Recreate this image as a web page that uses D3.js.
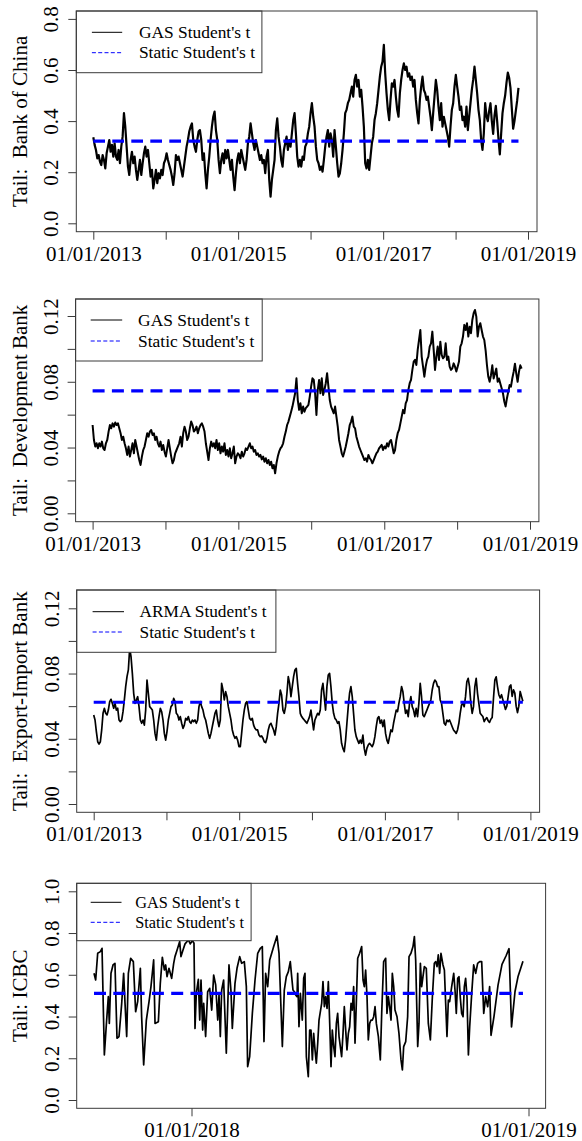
<!DOCTYPE html>
<html><head><meta charset="utf-8">
<script src="https://cdn.jsdelivr.net/npm/d3@7"></script>
<style>
body{margin:0;background:#fff}
svg{display:block;background:#fff}
text{font-family:"Liberation Serif","Times New Roman",serif;fill:#000}
</style>
</head><body>
<svg id="chart" width="582" height="1141"></svg>
<script>
// ---------------- DATA ----------------
// Bank of China: GAS Student's t tail (weekly-ish sampling, 2013-01-01 .. 2018-11-14)
const bocStart = "2013-01-01", bocEnd = "2018-11-14";
const bocValues = [
0.337,0.307,0.287,0.254,0.267,0.241,0.228,0.267,0.248,0.215,
0.274,0.300,0.326,0.280,0.307,0.261,0.313,0.261,0.248,0.287,
0.235,0.300,0.339,0.431,0.378,0.300,0.222,0.189,0.248,0.280,
0.235,0.261,0.209,0.170,0.209,0.248,0.189,0.235,0.274,0.300,
0.261,0.287,0.235,0.183,0.209,0.137,0.170,0.209,0.157,0.196,
0.176,0.209,0.189,0.235,0.248,0.274,0.248,0.228,0.209,0.183,
0.150,0.196,0.267,0.248,0.261,0.235,0.209,0.183,0.222,0.261,
0.300,0.326,0.359,0.378,0.391,0.326,0.300,0.280,0.326,0.359,
0.365,0.326,0.248,0.274,0.196,0.137,0.209,0.261,0.326,0.378,
0.417,0.437,0.365,0.326,0.248,0.196,0.248,0.274,0.235,0.287,
0.254,0.287,0.248,0.209,0.248,0.183,0.130,0.196,0.248,0.274,
0.235,0.287,0.261,0.235,0.209,0.248,0.313,0.339,0.391,0.352,
0.313,0.287,0.326,0.300,0.274,0.248,0.267,0.235,0.248,0.196,
0.261,0.287,0.170,0.104,0.170,0.209,0.248,
0.365,0.411,0.339,0.300,0.248,0.222,0.287,0.313,0.339,0.287,
0.326,0.300,0.352,0.404,0.431,0.352,0.261,0.222,0.248,0.222,
0.261,0.248,0.300,0.313,0.352,0.378,0.431,0.470,0.417,0.378,
0.300,0.248,0.235,0.209,0.222,0.202,0.248,0.300,0.339,0.365,
0.300,0.352,0.326,0.261,0.365,0.300,0.235,0.183,0.196,0.235,
0.287,0.352,0.431,0.444,0.470,0.483,0.509,0.535,0.496,0.561,
0.581,0.535,0.561,0.496,0.522,0.457,0.378,0.235,0.215,0.248,
0.209,0.261,0.313,0.339,0.404,0.431,0.470,0.522,0.574,0.613,
0.633,0.698,0.587,0.509,0.444,0.404,0.483,0.548,0.535,0.561,
0.496,0.444,0.417,0.509,0.561,0.600,0.626,0.600,0.613,0.574,
0.587,0.561,0.574,0.535,0.561,0.483,0.431,0.391,0.483,0.535,
0.574,0.522,0.509,0.483,0.496,0.457,0.417,0.365,0.431,0.496,
0.561,0.522,0.457,0.404,0.470,0.378,0.417,0.391,0.365,0.339,
0.300,0.378,0.444,0.470,0.535,0.581,0.535,0.496,0.444,0.457,
0.404,0.417,0.378,0.457,0.365,0.417,0.470,0.522,0.561,0.613,
0.561,0.509,0.444,0.404,0.326,0.287,0.352,
0.47,0.42,0.40,0.44,0.47,0.40,0.35,0.42,0.46,0.40,0.33,0.27,0.35,0.43,0.47,0.50,0.55,0.59,0.57,0.53,0.45,0.37,0.40,0.44,0.48,0.53
];
const bocStatic = 0.322;

// China Development Bank: GAS Student's t tail
const cdbStart = "2013-01-01", cdbEnd = "2018-11-20";
const cdbValues = [
0.0537,0.0446,0.0406,0.0426,0.0395,0.0426,0.0406,0.0436,0.0395,0.0385,
0.0426,0.0446,0.0497,0.0537,0.0517,0.0547,0.0527,0.0552,0.0537,0.0547,
0.0517,0.0487,0.0446,0.0466,0.0426,0.0395,0.0355,0.0406,0.0345,0.0385,
0.0426,0.0365,0.0446,0.0406,0.0365,0.0324,0.0294,0.0345,0.0385,0.0406,
0.0446,0.0487,0.0466,0.0497,0.0507,0.0476,0.0487,0.0446,0.0466,0.0426,
0.0406,0.0436,0.0385,0.0416,0.0375,0.0345,0.0395,0.0446,0.0395,0.0345,
0.0304,0.0324,0.0365,0.0385,0.0406,0.0426,0.0466,0.0406,0.0487,0.0527,
0.0497,0.0446,0.0466,0.0517,0.0558,0.0537,0.0497,0.0507,0.0527,0.0487,
0.0517,0.0537,0.0547,0.0527,0.0497,0.0426,0.0375,0.0324,0.0395,0.0436,
0.0406,0.0426,0.0395,0.0446,0.0385,0.0426,0.0365,0.0406,0.0375,0.0426,
0.0355,0.0385,0.0345,0.0395,0.0335,0.0365,0.0406,0.0304,0.0345,0.0365,
0.0355,0.0335,0.0375,0.0345,0.0365,0.0395,0.0385,0.0406,0.0426,0.0395,
0.0406,0.0375,0.0385,0.0355,0.0365,0.0345,0.0355,0.0328,0.0345,0.0314,
0.0335,0.0304,0.0324,0.0294,0.0314,0.0274,0.0294,0.0243,
0.0304,0.0345,0.0375,0.0395,0.0406,0.0426,0.0466,0.0497,0.0537,0.0558,
0.0588,0.0618,0.0649,0.0689,0.0730,0.0821,0.0689,0.0629,0.0669,0.0608,
0.0649,0.0618,0.0639,0.0649,0.0659,0.0710,0.0770,0.0821,0.0811,0.0730,
0.0598,0.0750,0.0811,0.0730,0.0821,0.0720,0.0750,0.0791,0.0852,0.0770,
0.0689,0.0649,0.0629,0.0608,0.0649,0.0588,0.0527,0.0446,0.0406,0.0365,
0.0345,0.0375,0.0406,0.0446,0.0487,0.0537,0.0558,0.0588,0.0527,0.0517,
0.0466,0.0436,0.0406,0.0385,0.0365,0.0345,0.0324,0.0335,0.0314,0.0355,
0.0335,0.0324,0.0304,0.0324,0.0345,0.0365,0.0375,0.0395,0.0406,0.0416,
0.0385,0.0406,0.0395,0.0426,0.0406,0.0436,0.0446,0.0406,0.0365,0.0385,
0.0446,0.0487,0.0507,0.0547,0.0588,0.0629,0.0608,0.0669,0.0689,0.0750,
0.0791,0.0811,0.0872,0.0923,0.0933,0.0902,0.0994,0.1054,0.1115,0.0953,
0.0892,0.0831,0.0892,0.0933,0.0953,0.1014,0.1034,0.1105,0.0994,0.0872,
0.0953,0.1014,0.0933,0.1044,0.0963,0.0943,0.0953,0.1034,0.0933,0.0953,
0.0892,0.0872,0.0882,0.0912,0.0892,0.0862,0.0892,0.0923,0.1014,0.1034,
0.1075,0.1146,0.1115,0.1156,0.1075,0.1135,0.1095,0.1176,0.1217,0.1237,
0.1196,0.1075,0.1135,0.1156,0.1115,0.1075,0.1054,
0.099,0.090,0.083,0.080,0.084,0.090,0.082,0.085,0.088,0.080,0.082,0.079,0.076,0.073,
0.068,0.065,0.070,0.074,0.078,0.077,0.082,0.086,0.091,0.085,0.080,0.086,0.090,0.088
];
const cdbStatic = 0.0745;

// Export-Import Bank: ARMA Student's t tail
const eibStart = "2013-01-01", eibEnd = "2018-11-24";
const eibValues = [
0.0546,0.0515,0.0444,0.0382,0.0368,0.0382,0.0454,0.0556,0.0587,0.0556,
0.0546,0.0576,0.0628,0.0642,0.0617,0.0587,0.0617,0.0576,0.0587,0.0515,
0.0505,0.0515,0.0566,0.0638,0.0720,0.0781,0.0822,0.0955,0.0904,0.0801,
0.0679,0.0617,0.0638,0.0658,0.0597,0.0515,0.0495,0.0515,0.0484,0.0576,
0.0760,0.0679,0.0597,0.0587,0.0576,0.0515,0.0433,0.0392,0.0474,0.0536,
0.0587,0.0566,0.0515,0.0433,0.0392,0.0444,0.0515,0.0556,0.0597,0.0607,
0.0648,0.0628,0.0556,0.0546,0.0515,0.0536,0.0495,0.0464,0.0484,0.0525,
0.0515,0.0536,0.0505,0.0495,0.0515,0.0505,0.0515,0.0495,0.0515,0.0597,
0.0628,0.0597,0.0576,0.0536,0.0515,0.0474,0.0433,0.0403,0.0433,0.0474,
0.0515,0.0556,0.0576,0.0515,0.0474,0.0515,0.0740,0.0699,0.0638,0.0689,
0.0658,0.0597,0.0556,0.0515,0.0454,0.0423,0.0403,0.0413,0.0392,0.0352,
0.0352,0.0433,0.0515,0.0576,0.0617,0.0628,0.0576,0.0525,0.0515,0.0525,
0.0484,0.0464,0.0454,0.0454,0.0423,0.0413,0.0417,0.0403,0.0382,0.0376,
0.0403,0.0454,0.0484,0.0495,0.0474,0.0454,0.0423,
0.0474,0.0556,0.0617,0.0699,0.0668,0.0576,0.0556,0.0597,0.0679,0.0781,
0.0740,0.0658,0.0720,0.0781,0.0822,0.0832,0.0740,0.0658,0.0556,0.0536,
0.0525,0.0515,0.0505,0.0495,0.0515,0.0536,0.0576,0.0515,0.0454,0.0515,
0.0536,0.0556,0.0546,0.0576,0.0699,0.0740,0.0658,0.0576,0.0720,0.0791,
0.0801,0.0720,0.0617,0.0556,0.0525,0.0515,0.0495,0.0505,0.0454,0.0372,
0.0341,0.0321,0.0392,0.0495,0.0597,0.0679,0.0720,0.0658,0.0556,0.0454,
0.0413,0.0392,0.0372,0.0392,0.0372,0.0423,0.0341,0.0300,0.0341,0.0362,
0.0372,0.0362,0.0352,0.0372,0.0413,0.0474,0.0525,0.0536,0.0495,0.0515,
0.0474,0.0515,0.0433,0.0392,0.0372,0.0413,0.0454,0.0444,0.0495,0.0536,
0.0576,0.0566,0.0617,0.0658,0.0720,0.0689,0.0617,0.0556,0.0576,0.0536,
0.0617,0.0658,0.0597,0.0576,0.0536,0.0587,0.0536,0.0617,0.0740,0.0658,
0.0546,0.0536,0.0556,0.0576,0.0597,0.0617,0.0638,0.0699,0.0740,0.0760,
0.0750,0.0720,0.0720,0.0638,0.0617,0.0556,0.0495,0.0484,0.0515,0.0505,
0.0515,0.0495,0.0474,0.0454,0.0444,0.0433,0.0454,0.0495,0.0556,0.0607,
0.0617,0.0597,0.0658,0.0750,0.0771,0.0720,0.0617,0.0556,0.0597,0.0720,
0.0771,0.0679,0.0617,0.0556,0.0546,0.0536,0.0505,
0.052,0.053,0.051,0.050,0.052,0.053,0.065,0.076,0.078,0.072,0.067,0.065,0.067,0.064,0.061,
0.058,0.060,0.066,0.072,0.073,0.066,0.070,0.068,0.060,0.056,0.060,0.069,0.066,0.063
];
const eibStatic = 0.0624;

// ICBC: GAS Student's t tail, observation time in days relative to 2018-01-01
const icbcBase = "2018-01-01";
const icbcDays = [
-105.6,-103.8,-101.6,-98.7,-96.9,-94.4,-91.9,-90.1,-89.0,-87.2,-85.0,-82.9,-80.7,-78.5,-75.6,-73.5,-72.0,-70.2,-68.4,-65.9,
-63.0,-60.5,-58.3,-55.4,-54.0,-51.8,-48.9,-46.0,-43.9,-41.0,-39.5,-35.9,-33.8,-31.6,-29.4,-28.0,-26.5,-24.4,-21.5,-19.3,
-17.9,-15.0,-12.8,-11.4,-9.2,-7.0,-3.4,-1.3,0.9,2.7,3.8,5.2,7.4,8.9,10.3,12.1,13.2,15.3,17.5,19.7,
21.9,24.0,26.2,28.4,29.8,31.2,32.7,34.8,37.7,40.6,42.8,44.2,47.1,49.3,52.2,54.3,57.2,59.4,60.8,63.0,
65.9,68.8,71.7,74.6,76.7,78.5,80.3,82.5,84.7,89.0,92.6,
94.8,98.4,100.5,102.7,104.9,107.0,108.5,109.9,111.4,112.8,114.3,115.0,116.4,117.9,120.0,121.5,122.9,124.4,126.5,128.0,
129.4,130.9,132.3,133.8,135.2,136.7,138.1,141.0,142.4,143.9,145.3,146.8,148.2,149.7,151.1,152.5,154.0,155.4,156.9,158.3,
159.8,161.2,162.6,164.1,165.5,167.0,168.4,169.9,171.3,172.8,174.2,175.6,177.1,178.5,180.0,182.1,184.3,185.8,187.2,188.6,
190.1,191.5,193.0,194.4,195.9,197.3,198.8,200.2,202.4,204.5,206.0,208.1,210.3,211.7,213.2,214.6,216.1,217.5,219.0,220.4,
222.6,224.7,226.9,228.4,229.8,232.0,234.1,235.6,237.7,239.9,241.4,242.8,245.0,246.4,247.9,249.3,250.7,252.2,254.3,256.5,
258.7,260.9,263.0,264.5,265.9,267.3,268.8,270.2,272.4,273.9,275.3,276.7,278.2,279.6,281.8,284.0,285.4,286.8,288.3,289.7,
291.2,292.6,294.1,295.5,296.9,298.4,299.9,301.3,303.5,305.6,307.8,309.9,312.1,314.3,316.5,318.6,320.8,322.9,
324.4,327.6,332.0,336.3,340.6,343.9,346.6,350.4,353.6,359.0
];
const icbcValues = [
0.607,0.575,0.703,0.711,0.727,0.216,0.383,0.495,0.367,0.607,0.647,0.655,0.296,0.304,0.463,0.607,0.463,0.304,0.607,0.679,
0.663,0.423,0.471,0.631,0.399,0.168,0.383,0.471,0.543,0.671,0.367,0.375,0.559,0.684,0.623,0.647,0.591,0.631,0.583,0.655,
0.687,0.727,0.759,0.687,0.719,0.748,0.767,0.748,0.764,0.751,0.343,0.511,0.578,0.383,0.575,0.335,0.463,0.304,0.519,0.535,
0.431,0.599,0.551,0.383,0.503,0.304,0.527,0.575,0.224,0.647,0.519,0.343,0.559,0.631,0.687,0.655,0.663,0.543,0.160,0.208,
0.415,0.575,0.703,0.727,0.735,0.280,0.607,0.543,0.671,0.735,0.786,
0.703,0.256,0.527,0.591,0.615,0.663,0.591,0.527,0.519,0.503,0.495,0.607,0.351,0.511,0.383,0.583,0.607,0.208,0.112,0.335,
0.335,0.192,0.319,0.240,0.176,0.272,0.383,0.463,0.567,0.447,0.495,0.439,0.567,0.367,0.160,0.335,0.256,0.208,0.367,0.415,
0.304,0.256,0.208,0.319,0.447,0.335,0.240,0.319,0.351,0.463,0.431,0.543,0.272,0.463,0.679,0.703,0.735,0.575,0.543,0.623,
0.495,0.288,0.367,0.383,0.383,0.399,0.447,0.367,0.304,0.192,0.415,0.663,0.679,0.415,0.495,0.447,0.383,0.607,0.543,0.431,
0.399,0.319,0.192,0.144,0.256,0.280,0.399,0.687,0.703,0.735,0.783,0.671,0.256,0.367,0.655,0.543,0.591,0.639,0.631,0.367,
0.288,0.495,0.655,0.663,0.639,0.695,0.607,0.703,0.647,0.623,0.463,0.304,0.479,0.471,0.543,0.607,0.527,0.415,0.583,0.591,
0.487,0.415,0.399,0.543,0.583,0.495,0.216,0.351,0.511,0.647,0.607,0.655,0.663,0.663,0.415,0.495,0.447,0.543,
0.31,0.40,0.55,0.65,0.69,0.725,0.35,0.52,0.59,0.665
];
const icbcStatic = 0.511;

// Axis ticks
const yearTicks = ["2013-01-01","2014-01-01","2015-01-01","2016-01-01","2017-01-01","2018-01-01","2019-01-01"];
const yearTickLabels = ["01/01/2013","","01/01/2015","","01/01/2017","","01/01/2019"];
const icbcXTicks = ["2018-01-01","2019-01-01"];
const icbcXTickLabels = ["01/01/2018","01/01/2019"];
const bocYTicks = [0,0.2,0.4,0.6,0.8];
const bocYLabels = ["0.0","0.2","0.4","0.6","0.8"];
const smallYTicks = [0,0.02,0.04,0.06,0.08,0.10,0.12];
const smallYLabels = ["0.00","","0.04","","0.08","","0.12"];
const icbcYTicks = [0,0.2,0.4,0.6,0.8,1.0];
const icbcYLabels = ["0.0","0.2","0.4","0.6","0.8","1.0"];

const legendStatic = "Static Student's t";
const yTitles = ["Tail:  Bank of China","Tail:  Development Bank","Tail:  Export-Import Bank","Tail: ICBC"];
const legendDynamic = ["GAS Student's t","GAS Student's t","ARMA Student's t","GAS Student's t"];

// ---------------- BUILD ----------------
const parse = s => new Date(s + "T00:00:00Z");
const DAY = 86400000;
function evenDates(start, end, n){
  const t0 = parse(start).getTime(), t1 = parse(end).getTime();
  return d3.range(n).map(i => new Date(t0 + (t1 - t0) * i / (n - 1)));
}
function series(dates, values){
  const n = Math.min(dates.length, values.length);
  return d3.range(n).map(i => ({date: dates[i], value: values[i]}));
}
const icbcBaseT = parse(icbcBase).getTime();

const panels = [
  { data: series(evenDates(bocStart, bocEnd, bocValues.length), bocValues), stat: bocStatic,
    box:{l:76.3,r:537,t:11,b:231.7}, xDom:[yearTicks[0],yearTicks[6]], xR:[93.3,528],
    yDom:[0,0.8], yR:[223.3,18.9], xt:yearTicks, xl:yearTickLabels, yt:bocYTicks, yl:bocYLabels,
    leg:{x:76.3,y:11,w:185.6,h:61.7,r1:32.3,r2:52.7,lx1:91.9,lx2:122.2,tx:138.9,fs:17.4},
    lw:2.2, dash:"11.7,7.3" },
  { data: series(evenDates(cdbStart, cdbEnd, cdbValues.length), cdbValues), stat: cdbStatic,
    box:{l:75.6,r:538.9,t:299,b:521.7}, xDom:[yearTicks[0],yearTicks[6]], xR:[92.6,530],
    yDom:[0,0.12], yR:[513.3,316], xt:yearTicks, xl:yearTickLabels, yt:smallYTicks, yl:smallYLabels,
    leg:{x:75.6,y:299,w:186.6,h:62,r1:320,r2:341,lx1:90.7,lx2:122.2,tx:138.1,fs:17.4},
    lw:2.0, dash:"12,7.3" },
  { data: series(evenDates(eibStart, eibEnd, eibValues.length), eibValues), stat: eibStatic,
    box:{l:76.7,r:539.6,t:590,b:812.3}, xDom:[yearTicks[0],yearTicks[6]], xR:[93.7,530.4],
    yDom:[0,0.12], yR:[804,608.3], xt:yearTicks, xl:yearTickLabels, yt:smallYTicks, yl:smallYLabels,
    leg:{x:76.7,y:590,w:199.2,h:62.3,r1:611.7,r2:632,lx1:92.6,lx2:124,tx:139.6,fs:17.3},
    lw:1.7, dash:"12,7.3" },
  { data: series(icbcDays.map(d => new Date(icbcBaseT + d * DAY)), icbcValues), stat: icbcStatic,
    box:{l:76.7,r:545.6,t:883.3,b:1108.3}, xDom:[icbcXTicks[0],icbcXTicks[1]], xR:[191.5,528.5],
    yDom:[0,1], yR:[1100,891.3], xt:icbcXTicks, xl:icbcXTickLabels, yt:icbcYTicks, yl:icbcYLabels,
    leg:{x:76.7,y:883.3,w:174.4,h:57.4,r1:902.3,r2:922.3,lx1:90.7,lx2:121.5,tx:135.2,fs:16.3},
    lw:1.7, dash:"12,7.3" }
];

const svg = d3.select("#chart");
svg.append("rect").attr("width",582).attr("height",1141).attr("fill","#fff");
const FRAME = "#3a3a3a";

panels.forEach((p, k) => {
  const g = svg.append("g");
  const x = d3.scaleUtc().domain(p.xDom.map(parse)).range(p.xR);
  const y = d3.scaleLinear().domain(p.yDom).range(p.yR);

  // dynamic series
  g.append("path").datum(p.data)
    .attr("fill","none").attr("stroke","#000").attr("stroke-width",p.lw)
    .attr("stroke-linejoin","round")
    .attr("d", d3.line().x(d => x(d.date)).y(d => y(d.value)));

  // static estimate
  const ext = d3.extent(p.data, d => d.date);
  g.append("path").datum(ext)
    .attr("fill","none").attr("stroke","#0000ff").attr("stroke-width",3.2)
    .attr("stroke-dasharray",p.dash)
    .attr("d", d3.line().x(d => x(d)).y(() => y(p.stat)));

  // legend
  const L = p.leg;
  g.append("rect").attr("x",L.x).attr("y",L.y).attr("width",L.w).attr("height",L.h)
    .attr("fill","#fff").attr("stroke",FRAME).attr("stroke-width",1);
  g.append("line").attr("x1",L.lx1).attr("x2",L.lx2).attr("y1",L.r1).attr("y2",L.r1)
    .attr("stroke","#000").attr("stroke-width",1);
  g.append("line").attr("x1",L.lx1).attr("x2",L.lx2).attr("y1",L.r2).attr("y2",L.r2)
    .attr("stroke","#0000ff").attr("stroke-width",1).attr("stroke-dasharray","4,2.3");
  g.append("text").attr("x",L.tx).attr("y",L.r1).attr("dy","0.32em")
    .style("font-size",L.fs+"px").text(legendDynamic[k]);
  g.append("text").attr("x",L.tx).attr("y",L.r2).attr("dy","0.32em")
    .style("font-size",L.fs+"px").text(legendStatic);

  // frame
  const B = p.box;
  g.append("rect").attr("x",B.l).attr("y",B.t).attr("width",B.r-B.l).attr("height",B.b-B.t)
    .attr("fill","none").attr("stroke",FRAME).attr("stroke-width",1);

  // x axis
  const xa = g.append("g").attr("transform",`translate(0,${B.b})`)
    .call(d3.axisBottom(x).tickValues(p.xt.map(parse)).tickFormat((d,i) => p.xl[i]).tickSize(8).tickSizeOuter(0));
  xa.select(".domain").remove();
  xa.selectAll(".tick line").attr("stroke",FRAME);
  xa.selectAll(".tick text").attr("y",29).attr("dy",null)
    .style("font-size","21px").style("font-family",'"Liberation Serif","Times New Roman",serif').attr("fill","#000");

  // y axis
  const ya = g.append("g").attr("transform",`translate(${B.l},0)`)
    .call(d3.axisLeft(y).tickValues(p.yt).tickFormat((d,i) => p.yl[i]).tickSize(8).tickSizeOuter(0));
  ya.select(".domain").remove();
  ya.selectAll(".tick line").attr("stroke",FRAME);
  ya.selectAll(".tick text").attr("x",null).attr("dy",null)
    .attr("text-anchor","middle").attr("transform","translate(-18,0) rotate(-90)")
    .style("font-size","21px").style("font-family",'"Liberation Serif","Times New Roman",serif').attr("fill","#000");

  // y title
  g.append("text").attr("transform",`translate(26.5,${(B.t+B.b)/2}) rotate(-90)`)
    .attr("text-anchor","middle").style("font-size","21px").style("white-space","pre")
    .text(yTitles[k]);
});
</script>
</body></html>
